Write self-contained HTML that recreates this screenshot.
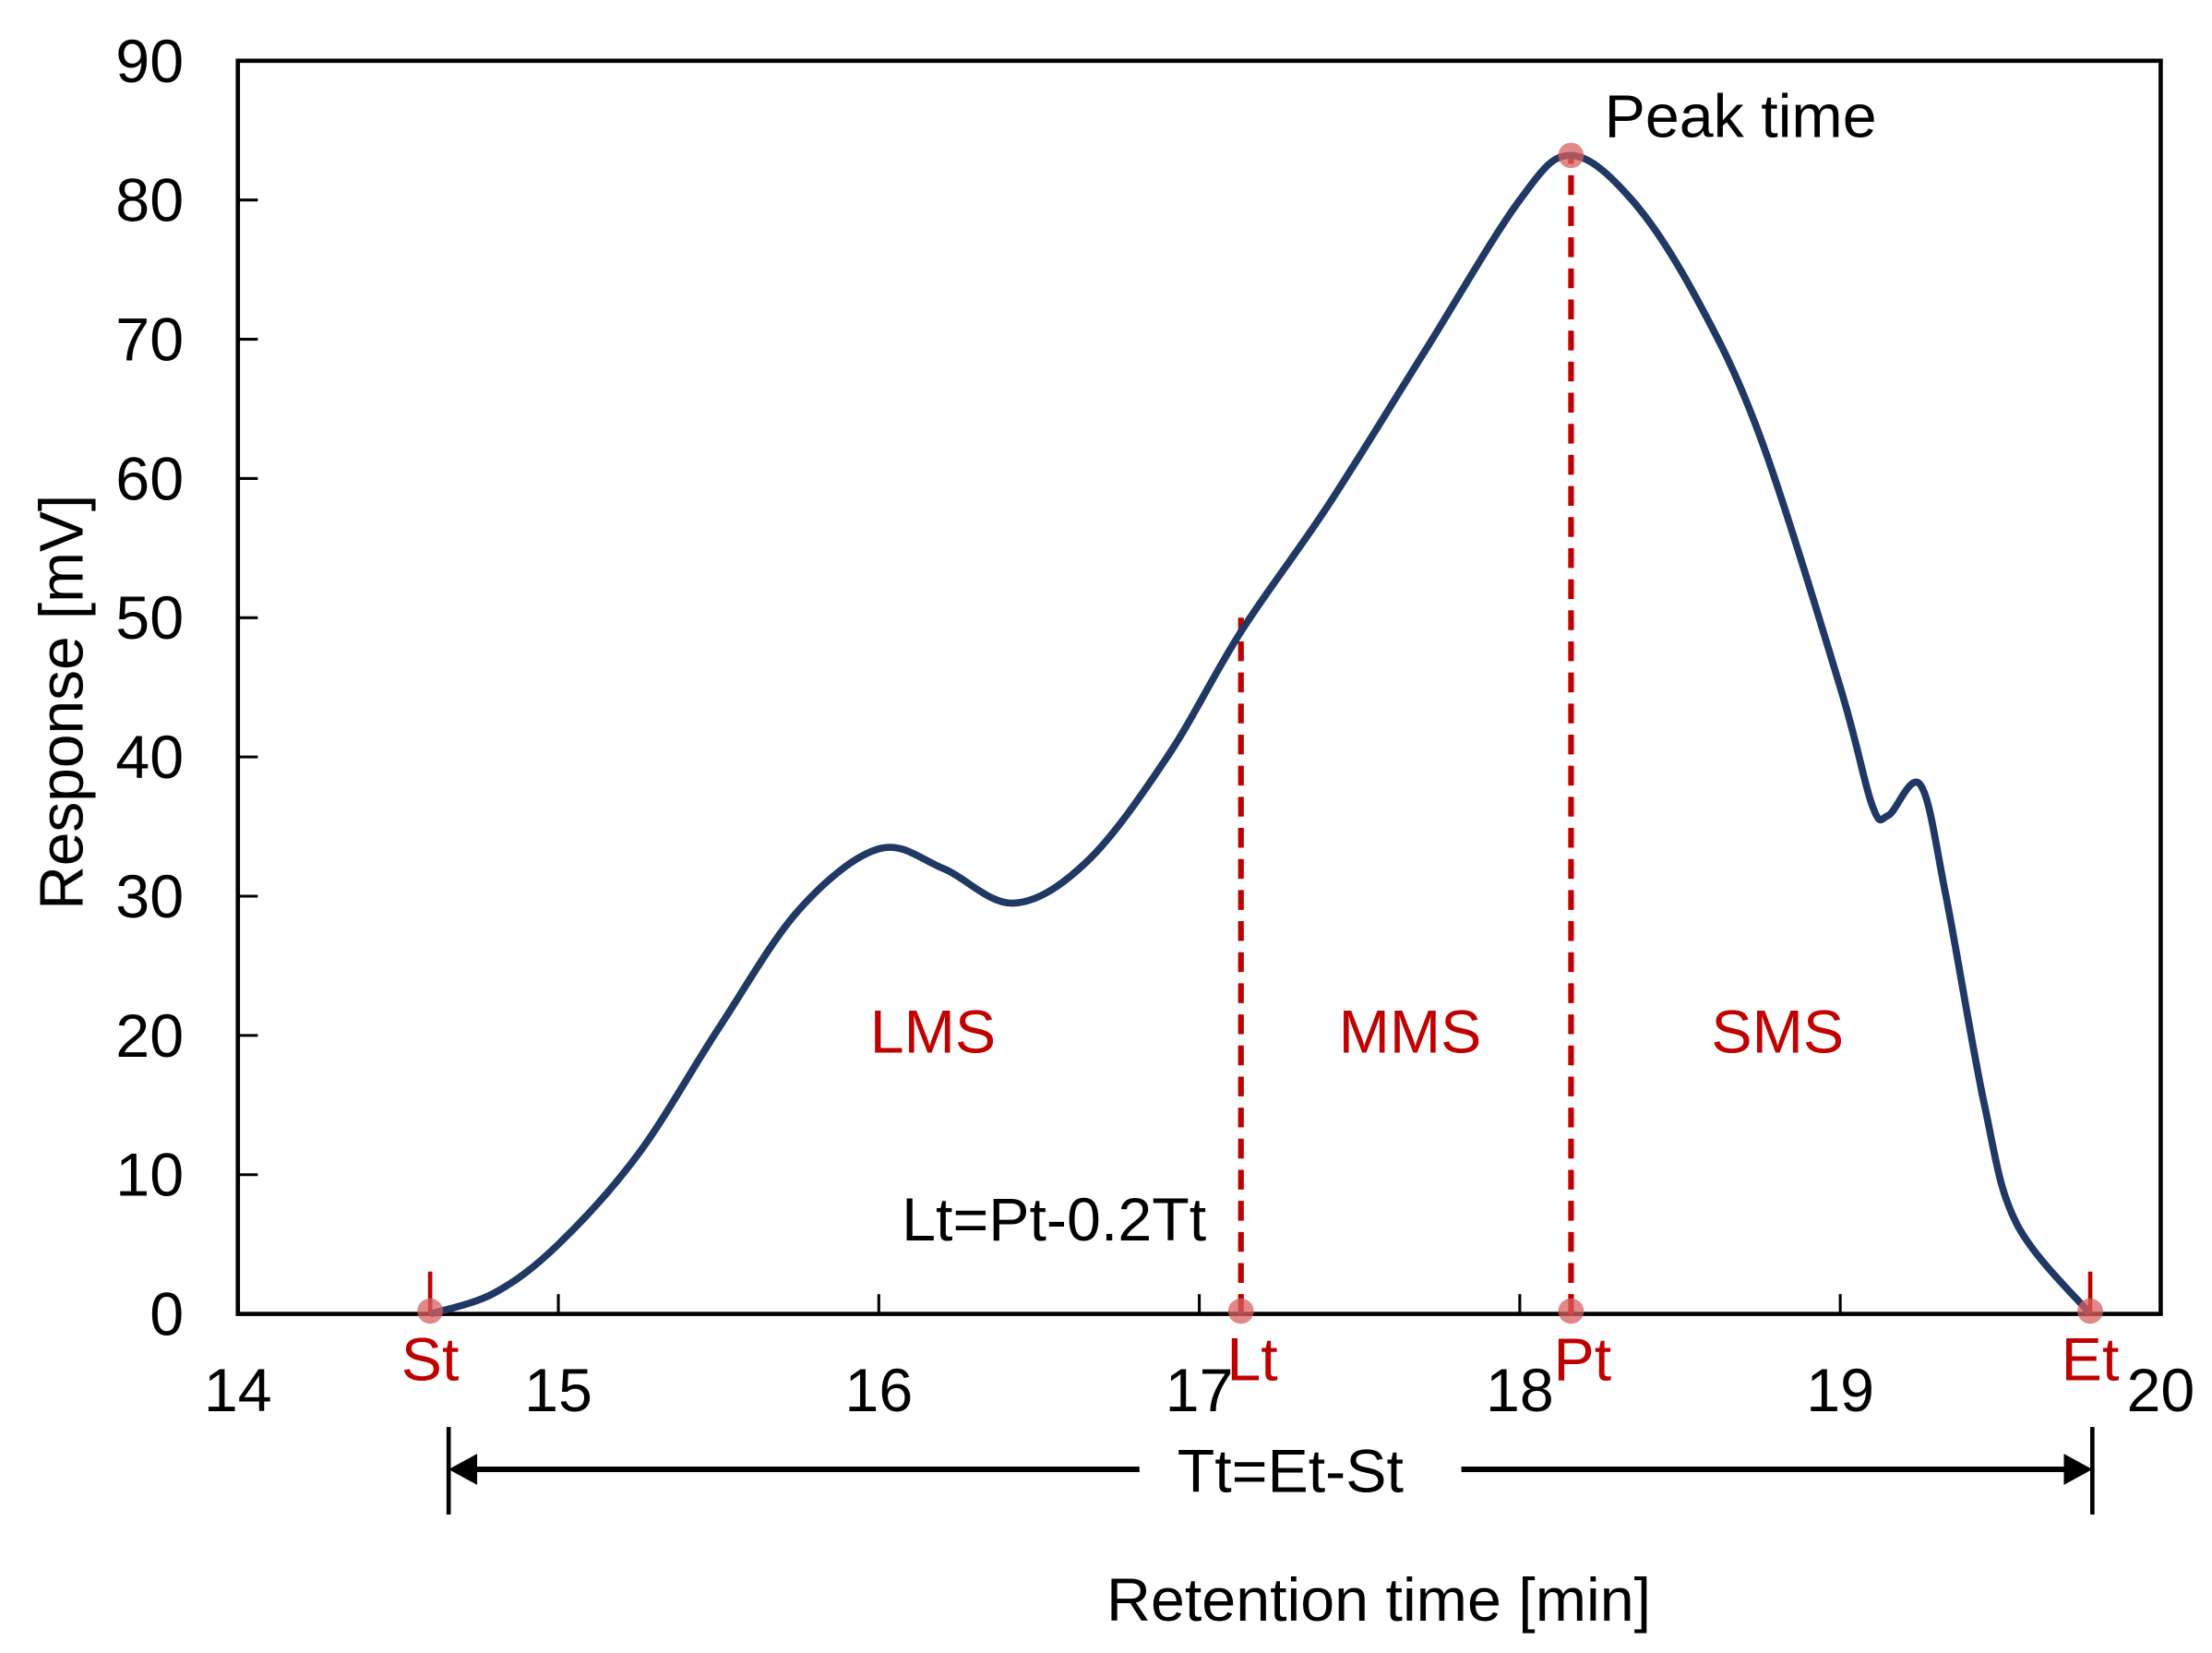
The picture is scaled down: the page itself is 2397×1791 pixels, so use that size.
<!DOCTYPE html>
<html><head><meta charset="utf-8"><style>
html,body{margin:0;padding:0;background:#fff}
svg{display:block}
text{font-family:"Liberation Sans",sans-serif}
</style></head><body>
<svg id="chart" width="2397" height="1791" viewBox="0 0 1553 1170" preserveAspectRatio="none" xmlns="http://www.w3.org/2000/svg">
<g id="plot"></g>
</svg>
<script>
const times=[14.6,14.8,15.0,15.25,15.5,15.75,16.0,16.2,16.42,16.65,16.9,17.13,17.4,17.7,18.0,18.16,18.35,18.55,18.75,19.0,19.1,19.15,19.25,19.33,19.45,19.55,19.78];
const response=[0,1.5,5,11.5,20.5,29,33.4,32,29.5,32.5,40,49,58,69,80,83.2,80,73,63,45,36.5,35.8,38,30,15,6.5,0];
const xTicks=[14,15,16,17,18,19,20];
const yTicks=[0,10,20,30,40,50,60,70,80,90];
const markerTimes=[14.6,17.13,18.16,19.78];
const markerLabels=["St","Lt","Pt","Et"];
const peakTime=18.16, peakValue=83.2, ltValue=50;

const L=167,R=1517,T=43,B=930;
const X=v=>L+(v-14)/6*(R-L);
const Y=v=>B-v/90*(B-T);
const g=document.getElementById('plot');
const NS="http://www.w3.org/2000/svg";
function mk(tag,attrs,txt){const e=document.createElementNS(NS,tag);for(const k in attrs)e.setAttribute(k,attrs[k]);if(txt!==undefined)e.textContent=txt;g.appendChild(e);return e;}

let e;
e=mk('rect',{x:L,y:T,width:R-L,height:B-T,fill:'none',stroke:'#000','stroke-width':3});


yTicks.forEach(v=>{
  e=mk('text',{x:129,y:Y(v)+15,'text-anchor':'end','font-size':43},v);
  
  
  e=mk('line',{x1:L,x2:L+14,y1:Y(v),y2:Y(v),stroke:'#000','stroke-width':2});
  
  
});
xTicks.forEach(v=>{
  e=mk('text',{x:X(v),y:999,'text-anchor':'middle','font-size':43},v);
  
  
  e=mk('line',{x1:X(v),x2:X(v),y1:B,y2:B-14,stroke:'#000','stroke-width':2});
  
  
});
e=mk('text',{x:968,y:1147,'text-anchor':'middle','font-size':43},'Retention time [min]');


e=mk('text',{x:0,y:0,'text-anchor':'middle','font-size':43,transform:'translate(58,497) rotate(-90)'},'Response [mV]');



e=mk('line',{x1:X(markerTimes[1]),x2:X(markerTimes[1]),y1:B,y2:Y(ltValue),stroke:'#c00000','stroke-width':4,'stroke-dasharray':'14,8'});


e=mk('line',{x1:X(peakTime),x2:X(peakTime),y1:B,y2:Y(peakValue),stroke:'#c00000','stroke-width':4,'stroke-dasharray':'14,8'});



const pts=times.map((t,i)=>[X(t),Y(response[i])]);
let d='M'+pts[0][0]+','+pts[0][1];
for(let i=0;i<pts.length-1;i++){
  const p0=pts[Math.max(i-1,0)],p1=pts[i],p2=pts[i+1],p3=pts[Math.min(i+2,pts.length-1)];
  const c1=[p1[0]+(p2[0]-p0[0])/6,p1[1]+(p2[1]-p0[1])/6];
  const c2=[p2[0]-(p3[0]-p1[0])/6,p2[1]-(p3[1]-p1[1])/6];
  d+=`C${c1[0]},${c1[1]} ${c2[0]},${c2[1]} ${p2[0]},${p2[1]}`;
}
e=mk('path',{d:d,fill:'none',stroke:'#1f3864','stroke-width':5,'stroke-linejoin':'round'});



[0,3].forEach(i=>{
  e=mk('line',{x1:X(markerTimes[i]),x2:X(markerTimes[i]),y1:B-30,y2:B,stroke:'#c00000','stroke-width':3});
  
  
});
markerTimes.forEach((t,i)=>{
  e=mk('circle',{cx:X(t),cy:B-2,r:9,fill:'#d86060','fill-opacity':0.75});
  
  
  e=mk('text',{x:X(t)+(i==1||i==2?8:0),y:977,'text-anchor':'middle','font-size':43,fill:'#c00000'},markerLabels[i]);
  
  
});
e=mk('circle',{cx:X(peakTime),cy:Y(peakValue),r:9,fill:'#d86060','fill-opacity':0.75});


e=mk('text',{x:1222,y:97,'text-anchor':'middle','font-size':43},'Peak time');


[['LMS',655],['MMS',990],['SMS',1248]].forEach(([s,x])=>{
  e=mk('text',{x:x,y:745,'text-anchor':'middle','font-size':43,fill:'#c00000'},s);
  
  
});
e=mk('text',{x:740,y:878,'text-anchor':'middle','font-size':43},'Lt=Pt-0.2Tt');



const ax1=315,ax2=1469,ay=1040;
e=mk('line',{x1:ax1,x2:ax1,y1:1010,y2:1072,stroke:'#000','stroke-width':3});


e=mk('line',{x1:ax2,x2:ax2,y1:1010,y2:1072,stroke:'#000','stroke-width':3});


e=mk('line',{x1:ax1+10,x2:800,y1:ay,y2:ay,stroke:'#000','stroke-width':4});


e=mk('line',{x1:1026,x2:ax2-10,y1:ay,y2:ay,stroke:'#000','stroke-width':4});


e=mk('polygon',{points:`${ax1},${ay} ${ax1+20},${ay-11} ${ax1+20},${ay+11}`,fill:'#000'});


e=mk('polygon',{points:`${ax2},${ay} ${ax2-20},${ay-11} ${ax2-20},${ay+11}`,fill:'#000'});


e=mk('text',{x:906,y:1056,'text-anchor':'middle','font-size':43},'Tt=Et-St');


</script>
</body></html>
